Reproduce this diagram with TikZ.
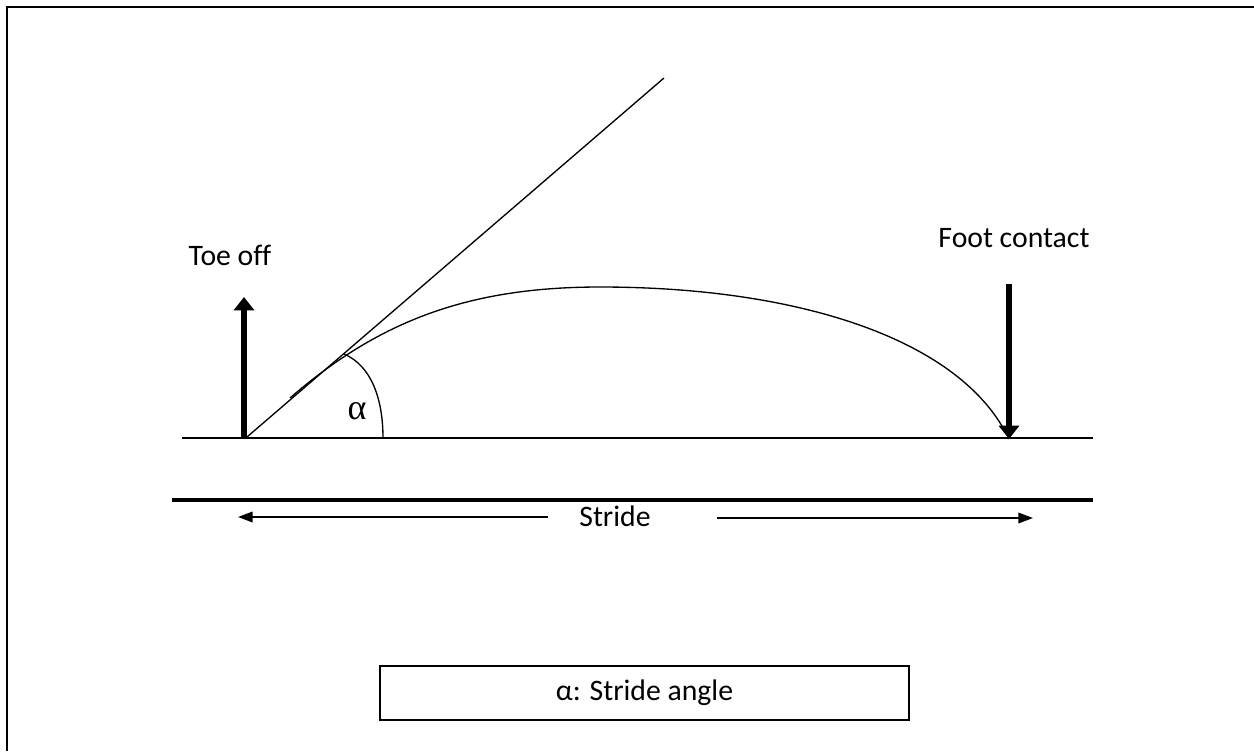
\documentclass[tikz,border=0pt]{standalone}
\usepackage{fontspec}
\setmainfont[Ligatures=CommonOff]{Carlito}
\newfontfamily\greekserif{Liberation Serif}
\usetikzlibrary{arrows.meta}
\begin{document}
\begin{tikzpicture}[x=0.75pt,y=-0.75pt,
  lbl/.style={inner sep=0pt,font=\fontsize{22.3}{26}\selectfont},
  thin/.style={line width=1pt},
  bigarrow/.style={line width=5pt,-{Triangle[length=10pt,width=15pt]}},
  stridearrow/.style={line width=1.1pt,-{Triangle[length=11pt,width=8pt]}}]
\useasboundingbox (0,0) rectangle (1254,751);
% frame (top and left only)
\draw[line width=1.5pt] (7,751) -- (7,7) -- (1254,7);
% ground lines
\coordinate (g1a) at (182,438);
\coordinate (g1b) at (1093,438);
\draw[line width=1.8pt] (g1a) -- (g1b);
\coordinate (g2a) at (172,500);
\coordinate (g2b) at (1093,500);
\draw[line width=3.2pt] (g2a) -- (g2b);
% toe off
\coordinate (toeB) at (244,438);
\coordinate (toeT) at (244,297);
\draw[bigarrow] (toeB) -- (toeT);
\node[lbl] (toe) at (230,255) {Toe off};
% foot contact
\coordinate (footT) at (1009,284);
\coordinate (footB) at (1009,439);
\draw[bigarrow] (footT) -- (footB);
\node[lbl] (foot) at (1014,238) {Foot contact};
% tangent line
\coordinate (tanA) at (247,437);
\coordinate (tanB) at (664,78);
\draw[thin] (tanA) -- (tanB);
% trajectory
\coordinate (c0) at (290,398);
\coordinate (peak) at (600,287);
\draw[thin] (c0) .. controls (380,320) and (470,287) .. (peak)
  .. controls (800,287) and (962,340) .. (footB);
% angle arc
\coordinate (arcA) at (344,354);
\coordinate (arcB) at (383,438);
\draw[thin] (arcA) .. controls (372,366) and (383,400) .. (arcB);
\node[inner sep=0pt,font=\greekserif\fontsize{27}{30}\selectfont] (alpha) at (357,411) {α};
% stride
\node[lbl] (stride) at (615,516) {Stride};
\coordinate (sL) at (238,517);
\coordinate (sR) at (1033,518);
\draw[stridearrow] (548,517) -- (sL);
\draw[stridearrow] (717,518) -- (sR);
% legend box
\node[draw,thin,minimum width=529*0.75pt,minimum height=54*0.75pt,inner sep=0pt,
  font=\fontsize{22.3}{26}\selectfont] (legend) at (644.5,693) {α: Stride angle};
\end{tikzpicture}
\end{document}
